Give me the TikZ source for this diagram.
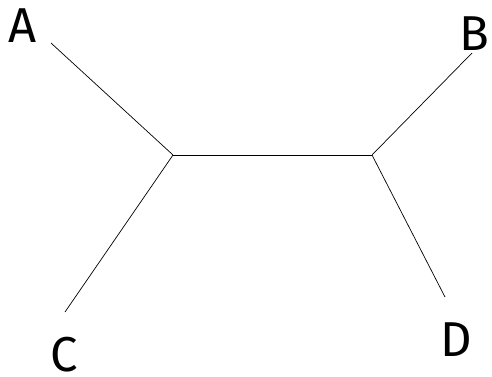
\documentclass[tikz,border=0pt]{standalone}
\usepackage{fontspec}
\setmainfont{Fira Sans}

\begin{document}
\begin{tikzpicture}[%
      x=1pt,y=-1pt,
      leaf/.style={font=\fontsize{49}{49}\selectfont, inner sep=0pt},
      edge/.style={line width=0.7pt},
      ]
      \useasboundingbox (0,0) rectangle (492,377);

      % inner vertices
      \coordinate (u) at (173,155);
      \coordinate (v) at (372,155);

      % ends of the leaf branches
      \coordinate (a) at (51,43);
      \coordinate (b) at (472,53);
      \coordinate (c) at (65,312);
      \coordinate (d) at (445,297);

      \node[leaf] (A) at (23,25.5) {A};
      \node[leaf] (B) at (474.5,33.5) {B};
      \node[leaf] (C) at (64.5,354.5) {C};
      \node[leaf] (D) at (456.5,339.5) {D};

      \draw [edge] (u) -- (v);
      \draw [edge] (a) -- (u);
      \draw [edge] (c) -- (u);
      \draw [edge] (b) -- (v);
      \draw [edge] (d) -- (v);
      \end{tikzpicture}
\end{document}
